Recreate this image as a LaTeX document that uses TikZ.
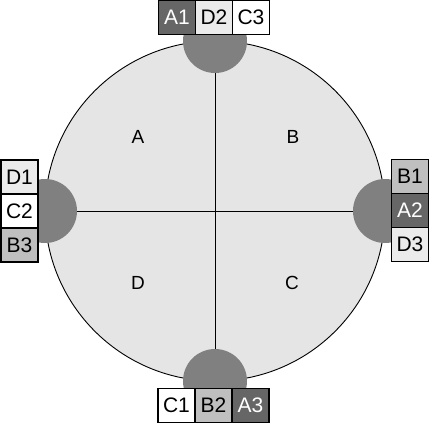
\documentclass[tikz,border=0pt]{standalone}
\usepackage{fontspec}
\setmainfont{Liberation Sans}
\usetikzlibrary{positioning}
\definecolor{cellA}{gray}{0.40}
\definecolor{cellB}{gray}{0.75}
\definecolor{cellC}{gray}{1.00}
\definecolor{cellD}{gray}{0.92}
\definecolor{ringfill}{gray}{0.90}
\definecolor{hubfill}{gray}{0.50}

\begin{document}
\begin{tikzpicture}[x=1pt, y=-1pt,
  cell/.style={draw=black, line width=1.2pt, minimum width=37pt, minimum height=34pt,
    inner sep=0pt, outer sep=0pt, font=\fontsize{21}{24}\selectfont},
  hub/.style={circle, fill=hubfill, minimum size=64pt, inner sep=0pt, outer sep=0pt},
  region/.style={font=\fontsize{19}{22}\selectfont}]
  \useasboundingbox (0,0) rectangle (430,424);

  % Ring
  \node[circle, draw=black, line width=0.9pt, fill=ringfill, minimum size=340pt,
    inner sep=0pt, outer sep=0pt] (ring) at (215,211) {};
  \draw[line width=1pt] (ring.north) -- (ring.south);
  \draw[line width=1pt] (ring.west) -- (ring.east);

  % Region labels
  \node[region] (regA) at (138,137) {A};
  \node[region] (regB) at (293,137) {B};
  \node[region] (regC) at (292,283) {C};
  \node[region] (regD) at (138,283) {D};

  % Hubs on the ring
  \node[hub] (hubN) at (ring.north) {};
  \node[hub] (hubS) at (ring.south) {};
  \node[hub] (hubW) at (ring.west) {};
  \node[hub] (hubE) at (ring.east) {};

  % Top cells
  \node[cell, fill=cellD] (d2) at (214,17.5) {D2};
  \node[cell, fill=cellA, text=white, left=0pt of d2] (a1) {A1};
  \node[cell, fill=cellC, right=0pt of d2] (c3) {C3};

  % Left cells
  \node[cell, fill=cellC] (c2) at (19.5,211) {C2};
  \node[cell, fill=cellD, above=0pt of c2] (d1) {D1};
  \node[cell, fill=cellB, below=0pt of c2] (b3) {B3};

  % Right cells
  \node[cell, fill=cellA, text=white] (a2) at (410,210.5) {A2};
  \node[cell, fill=cellB, above=0pt of a2] (b1) {B1};
  \node[cell, fill=cellD, below=0pt of a2] (d3) {D3};

  % Bottom cells
  \node[cell, fill=cellB] (b2) at (213.5,405.5) {B2};
  \node[cell, fill=cellC, left=0pt of b2] (c1) {C1};
  \node[cell, fill=cellA, text=white, right=0pt of b2] (a3) {A3};
\end{tikzpicture}
\end{document}
